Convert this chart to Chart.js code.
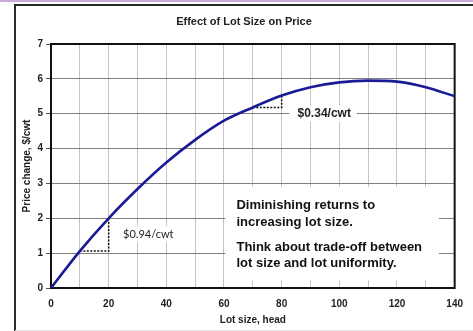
<!DOCTYPE html>
<html>
<head>
<meta charset="utf-8">
<script src="https://cdn.jsdelivr.net/npm/chart.js@4/dist/chart.umd.min.js"></script>
<style>
  html, body { margin: 0; padding: 0; background: #fff; }
  #wrap { width: 473px; height: 331px; position: relative; }
</style>
</head>
<body>
<div id="wrap"><canvas id="c"></canvas></div>
<script>
// lot size (head) and price change ($/cwt)
const lotSize = [0, 10, 20, 30, 40, 50, 60, 70, 80, 90, 100, 110, 120, 130, 140];
const priceChange = [0, 1.06, 2.0, 2.84, 3.6, 4.25, 4.8, 5.18, 5.52, 5.76, 5.9, 5.95, 5.92, 5.76, 5.5];
// marginal steps shown with dotted lines (indices into the arrays above)
const stepFrom = [1, 7];
const stepTo = [2, 8];
const stepLabels = ["$0.94/cwt", "$0.34/cwt"];
const yTicks = [0, 1, 2, 3, 4, 5, 6, 7];
const xTickLabels = [0, 20, 40, 60, 80, 100, 120, 140];

const chartTitle = "Effect of Lot Size on Price";
const noteLines = [
  ["Diminishing returns to", "increasing lot size."],
  ["Think about trade-off between", "lot size and lot uniformity."],
];

const FONT = "'Liberation Sans', Arial, sans-serif";

const stepSets = stepFrom.map((a, i) => {
  const b = stepTo[i];
  return {
    data: [
      { x: lotSize[a], y: priceChange[a] },
      { x: lotSize[b], y: priceChange[a] },
      { x: lotSize[b], y: priceChange[b] },
    ],
    borderColor: "#111",
    borderWidth: 1.5,
    borderDash: [2, 1.5],
    pointRadius: 0,
    tension: 0,
    fill: false,
  };
});

const decor = {
  id: "decor",
  beforeDraw(chart) {
    const { ctx, width, height } = chart;
    ctx.save();
    ctx.fillStyle = "#fff";
    ctx.fillRect(0, 0, width, height);
    ctx.fillStyle = "#c9a8da";
    ctx.fillRect(0, 0, width, 2);
    ctx.strokeStyle = "#2b2b2b";
    ctx.lineWidth = 2;
    ctx.beginPath();
    ctx.moveTo(15, height);
    ctx.lineTo(15, 5);
    ctx.lineTo(width, 5);
    ctx.stroke();
    ctx.strokeStyle = "#e2e2e2";
    ctx.lineWidth = 1;
    ctx.beginPath();
    ctx.moveTo(15, 330.5);
    ctx.lineTo(width, 330.5);
    ctx.stroke();
    // chart title
    ctx.fillStyle = "#222";
    ctx.font = "bold 11px " + FONT;
    ctx.textAlign = "center";
    ctx.textBaseline = "middle";
    ctx.fillText(chartTitle, 244, 22);
    ctx.restore();
  },
  beforeDatasetsDraw(chart) {
    const { ctx, chartArea: a, scales } = chart;
    const xs = scales.x, ys = scales.y;
    ctx.save();

    // note box
    const bx0 = xs.getPixelForValue(60.5), bx1 = xs.getPixelForValue(134.5);
    const by0 = ys.getPixelForValue(2.9), by1 = ys.getPixelForValue(0.22);
    ctx.fillStyle = "#fff";
    ctx.fillRect(bx0, by0, bx1 - bx0, by1 - by0);
    ctx.fillStyle = "#111";
    ctx.font = "bold 13px " + FONT;
    ctx.textAlign = "left";
    ctx.textBaseline = "middle";
    let ty = by0 + 19;
    noteLines.forEach((para) => {
      para.forEach((line) => {
        ctx.fillText(line, bx0 + 11, ty);
        ty += 16.5;
      });
      ty += 8.5;
    });

    // step labels
    const l1x = xs.getPixelForValue(25), l1y = ys.getPixelForValue(1.55);
    ctx.font = "11px Lato, 'Open Sans', sans-serif";
    const w1 = ctx.measureText(stepLabels[0]).width;
    ctx.fillStyle = "#fff";
    ctx.fillRect(l1x - 3, l1y - 8, w1 + 6, 16);
    ctx.fillStyle = "#222";
    ctx.fillText(stepLabels[0], l1x, l1y);

    const l2x = xs.getPixelForValue(85.5), l2y = ys.getPixelForValue(5.0);
    ctx.font = "bold 12px " + FONT;
    const w2 = ctx.measureText(stepLabels[1]).width;
    ctx.fillStyle = "#fff";
    ctx.fillRect(l2x - 8, l2y - 8, w2 + 14, 16);
    ctx.fillStyle = "#222";
    ctx.fillText(stepLabels[1], l2x, l2y);

    // plot frame
    ctx.strokeStyle = "#111";
    ctx.lineWidth = 2;
    ctx.strokeRect(a.left, a.top, a.right - a.left, a.bottom - a.top);
    ctx.restore();
  },
};

new Chart(document.getElementById("c"), {
  type: "line",
  data: {
    datasets: [
      {
        data: lotSize.map((x, i) => ({ x, y: priceChange[i] })),
        borderColor: "#1a1a96",
        borderWidth: 2.6,
        pointRadius: 0,
        cubicInterpolationMode: "monotone",
        fill: false,
      },
      ...stepSets,
    ],
  },
  options: {
    responsive: true,
    maintainAspectRatio: false,
    animation: false,
    layout: { padding: { left: 21, top: 44, right: 17, bottom: 5 } },
    plugins: { legend: { display: false }, tooltip: { enabled: false } },
    scales: {
      x: {
        type: "linear",
        min: 0,
        max: 140,
        afterFit: (s) => { s.height = 38; },
        afterBuildTicks: (s) => { s.ticks = lotSize.map((v) => ({ value: v })); },
        ticks: {
          padding: 10,
          color: "#222",
          font: { family: FONT, size: 10, weight: "bold" },
          maxRotation: 0,
          autoSkip: false,
          callback: (v) => (xTickLabels.includes(v) ? String(v) : ""),
        },
        grid: { color: "#c4c4c4", lineWidth: 1, drawTicks: false },
        border: { display: false },
        title: {
          display: true,
          text: "Lot size, head",
          color: "#222",
          font: { family: FONT, size: 10, weight: "bold" },
          padding: 0,
        },
      },
      y: {
        min: 0,
        max: 7,
        afterFit: (s) => { s.width = 30; },
        afterBuildTicks: (s) => { s.ticks = yTicks.map((v) => ({ value: v })); },
        ticks: {
          padding: 3,
          color: "#222",
          font: { family: FONT, size: 10, weight: "bold" },
        },
        grid: { color: "#808080", lineWidth: 1, tickLength: 5, tickColor: "#555" },
        border: { display: false },
        title: {
          display: true,
          text: "Price change, $/cwt",
          color: "#222",
          font: { family: FONT, size: 10, weight: "bold" },
          padding: 0,
        },
      },
    },
  },
  plugins: [decor],
});
</script>
</body>
</html>
